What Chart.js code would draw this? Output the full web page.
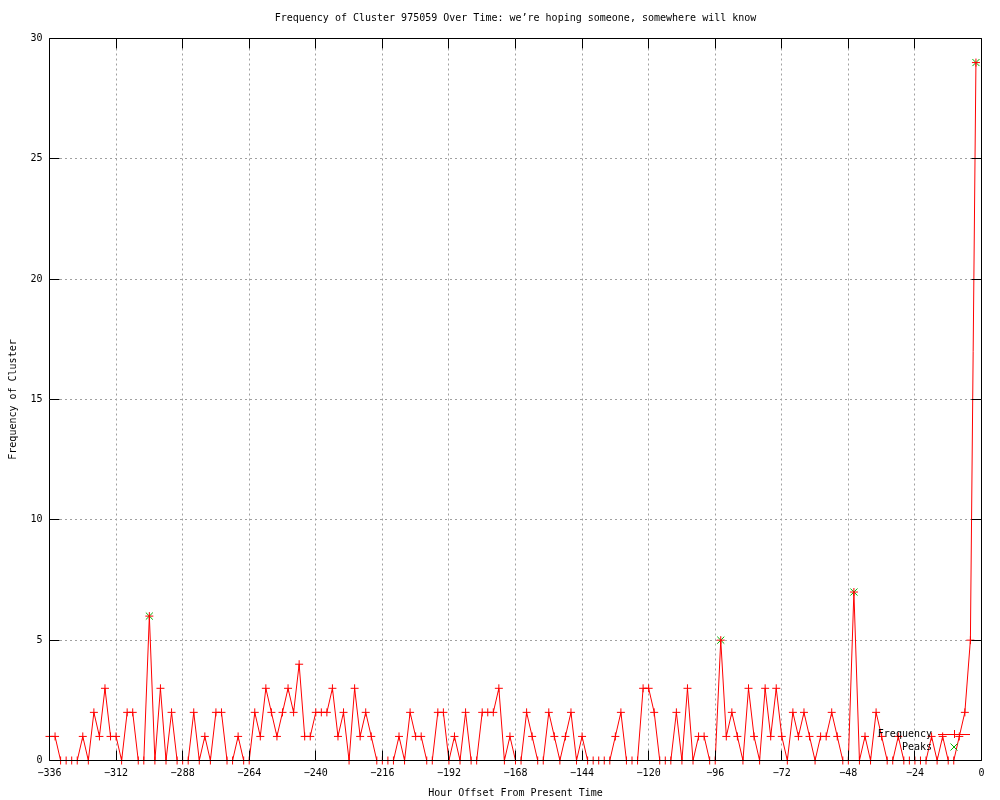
<!DOCTYPE html>
<html>
<head>
<meta charset="utf-8">
<script src="https://cdn.jsdelivr.net/npm/chart.js@4"></script>
<style>
  html, body { margin: 0; padding: 0; background: #fff; }
  canvas { display: block; }
</style>
</head>
<body>
<canvas id="chart" width="1000" height="800"></canvas>
<script>
// hour offsets: one reading every 2 hours, from -336 up to -2
const startHour = -336
const stepHours = 2
const frequency = [
  1, 1, 0, 0, 0, 0, 1, 0, 2, 1, 3, 1, 1, 0, 2, 2, 0, 0, 6, 0,
  3, 0, 2, 0, 0, 0, 2, 0, 1, 0, 2, 2, 0, 0, 1, 0, 0, 2, 1, 3,
  2, 1, 2, 3, 2, 4, 1, 1, 2, 2, 2, 3, 1, 2, 0, 3, 1, 2, 1, 0,
  0, 0, 0, 1, 0, 2, 1, 1, 0, 0, 2, 2, 0, 1, 0, 2, 0, 0, 2, 2,
  2, 3, 0, 1, 0, 0, 2, 1, 0, 0, 2, 1, 0, 1, 2, 0, 1, 0, 0, 0,
  0, 0, 1, 2, 0, 0, 0, 3, 3, 2, 0, 0, 0, 2, 0, 3, 0, 1, 1, 0,
  0, 5, 1, 2, 1, 0, 3, 1, 0, 3, 1, 3, 1, 0, 2, 1, 2, 1, 0, 1,
  1, 2, 1, 0, 0, 7, 0, 1, 0, 2, 1, 0, 0, 1, 0, 0, 0, 0, 0, 1,
  0, 1, 0, 0, 1, 2, 5, 29
]
const hours = frequency.map((v, i) => startHour + i * stepHours)

const peakHours = [-300, -94, -46, -2]
const peakValues = [6, 5, 7, 29]

const xTicks = { min: -336, max: 0, step: 24 }
const yTicks = { min: 0, max: 30, step: 5 }

const titleText = 'Frequency of Cluster 975059 Over Time: we\u2019re hoping someone, somewhere will know'
const font = { family: 'DejaVu Sans Mono', size: 10 }
const RED = '#ff0000'
const GREEN = '#00b000'

const crisp = v => Math.round(v - 0.5) + 0.5

// no dotted grid line on top of the frame
const gridColor = lim => ctx =>
  (ctx.tick && (ctx.tick.value === lim.min || ctx.tick.value === lim.max)) ? 'rgba(0,0,0,0)' : '#a0a0a0'

// title centred over the plot, like gnuplot does it
const titlePlugin = {
  id: 'plotTitle',
  afterDraw(chart) {
    const { ctx, chartArea: a } = chart
    ctx.save()
    ctx.font = `${font.size}px ${font.family}`
    ctx.fillStyle = '#000'
    ctx.textAlign = 'center'
    ctx.textBaseline = 'middle'
    ctx.fillText(titleText, (a.left + a.right) / 2, 18)
    ctx.restore()
  }
}

// gnuplot style frame: full border plus inward tick marks on all sides
const framePlugin = {
  id: 'frame',
  afterDatasetsDraw(chart) {
    const { ctx, scales } = chart
    const x0 = crisp(scales.x.getPixelForValue(xTicks.min))
    const x1 = crisp(scales.x.getPixelForValue(xTicks.max))
    const y0 = crisp(scales.y.getPixelForValue(yTicks.min))
    const y1 = crisp(scales.y.getPixelForValue(yTicks.max))
    ctx.save()
    ctx.strokeStyle = '#000'
    ctx.lineWidth = 1
    ctx.beginPath()
    ctx.rect(x0, y1, x1 - x0, y0 - y1)
    const len = 10
    scales.x.ticks.forEach(t => {
      const px = crisp(scales.x.getPixelForValue(t.value))
      ctx.moveTo(px, y0); ctx.lineTo(px, y0 - len)
      ctx.moveTo(px, y1); ctx.lineTo(px, y1 + len)
    })
    scales.y.ticks.forEach(t => {
      const py = crisp(scales.y.getPixelForValue(t.value))
      ctx.moveTo(x0, py); ctx.lineTo(x0 + len, py)
      ctx.moveTo(x1, py); ctx.lineTo(x1 - len, py)
    })
    ctx.stroke()
    ctx.restore()
  }
}

// key in the lower right corner, text left of the sample
const keyPlugin = {
  id: 'key',
  afterDraw(chart) {
    const { ctx, chartArea: a } = chart
    const sx = Math.round(a.right - 44), ex = sx + 32, mx = sx + 16
    const rows = chart.data.datasets.map((ds, i) => ({ ds, y: Math.round(a.bottom - 27) + i * 13 }))
    ctx.save()
    ctx.font = `${font.size}px ${font.family}`
    ctx.textAlign = 'right'
    ctx.textBaseline = 'middle'
    ctx.fillStyle = '#000'
    rows.forEach(r => ctx.fillText(r.ds.label, sx - 6, r.y))
    ctx.lineWidth = 1
    rows.forEach(r => {
      ctx.strokeStyle = r.ds.borderColor
      ctx.beginPath()
      if (r.ds.showLine !== false) {
        ctx.moveTo(sx, r.y + 0.5); ctx.lineTo(ex, r.y + 0.5)
      }
      const s = r.ds.pointRadius
      if (r.ds.pointStyle === 'cross') {
        ctx.moveTo(mx - s, r.y + 0.5); ctx.lineTo(mx + s, r.y + 0.5)
        ctx.moveTo(mx + 0.5, r.y - s); ctx.lineTo(mx + 0.5, r.y + s)
      } else {
        ctx.moveTo(mx - s * 0.7, r.y - s * 0.7); ctx.lineTo(mx + s * 0.7, r.y + s * 0.7)
        ctx.moveTo(mx - s * 0.7, r.y + s * 0.7); ctx.lineTo(mx + s * 0.7, r.y - s * 0.7)
      }
      ctx.stroke()
    })
    ctx.restore()
  }
}

new Chart(document.getElementById('chart'), {
  type: 'line',
  data: {
    datasets: [{
      label: 'Frequency',
      data: hours.map((h, i) => ({ x: h, y: frequency[i] })),
      borderColor: RED,
      backgroundColor: RED,
      borderWidth: 1,
      tension: 0,
      pointStyle: 'cross',
      pointRadius: 4,
      pointBorderWidth: 1,
      pointBorderColor: RED,
      clip: false
    }, {
      label: 'Peaks',
      data: peakHours.map((h, i) => ({ x: h, y: peakValues[i] })),
      showLine: false,
      borderColor: GREEN,
      backgroundColor: GREEN,
      pointStyle: 'crossRot',
      pointRadius: 5,
      pointBorderWidth: 1,
      pointBorderColor: GREEN,
      clip: false
    }]
  },
  options: {
    responsive: false,
    animation: false,
    devicePixelRatio: 1,
    layout: { padding: { left: 0, right: 18.5, top: 38.5, bottom: 0 } },
    plugins: {
      legend: { display: false },
      tooltip: { enabled: false },
      title: { display: false }
    },
    scales: {
      x: {
        type: 'linear',
        min: xTicks.min,
        max: xTicks.max,
        afterFit(scale) { scale.height = 39.5 },
        ticks: {
          stepSize: xTicks.step,
          color: '#000',
          font: font,
          padding: 7,
          maxRotation: 0,
          callback: v => String(v).replace('-', '\u2212')
        },
        grid: { color: gridColor(xTicks), drawTicks: false },
        border: { display: false, dash: [2, 3] },
        title: {
          display: true,
          text: 'Hour Offset From Present Time',
          color: '#000',
          font: font,
          padding: { top: 0, bottom: 1 }
        }
      },
      y: {
        min: yTicks.min,
        max: yTicks.max,
        afterFit(scale) { scale.width = 49.5 },
        ticks: {
          stepSize: yTicks.step,
          color: '#000',
          font: font,
          padding: 7
        },
        grid: { color: gridColor(yTicks), drawTicks: false },
        border: { display: false, dash: [2, 3] },
        title: {
          display: true,
          text: 'Frequency of Cluster',
          color: '#000',
          font: font,
          padding: { top: 7, bottom: 0 }
        }
      }
    }
  },
  plugins: [framePlugin, titlePlugin, keyPlugin]
})
</script>
</body>
</html>
